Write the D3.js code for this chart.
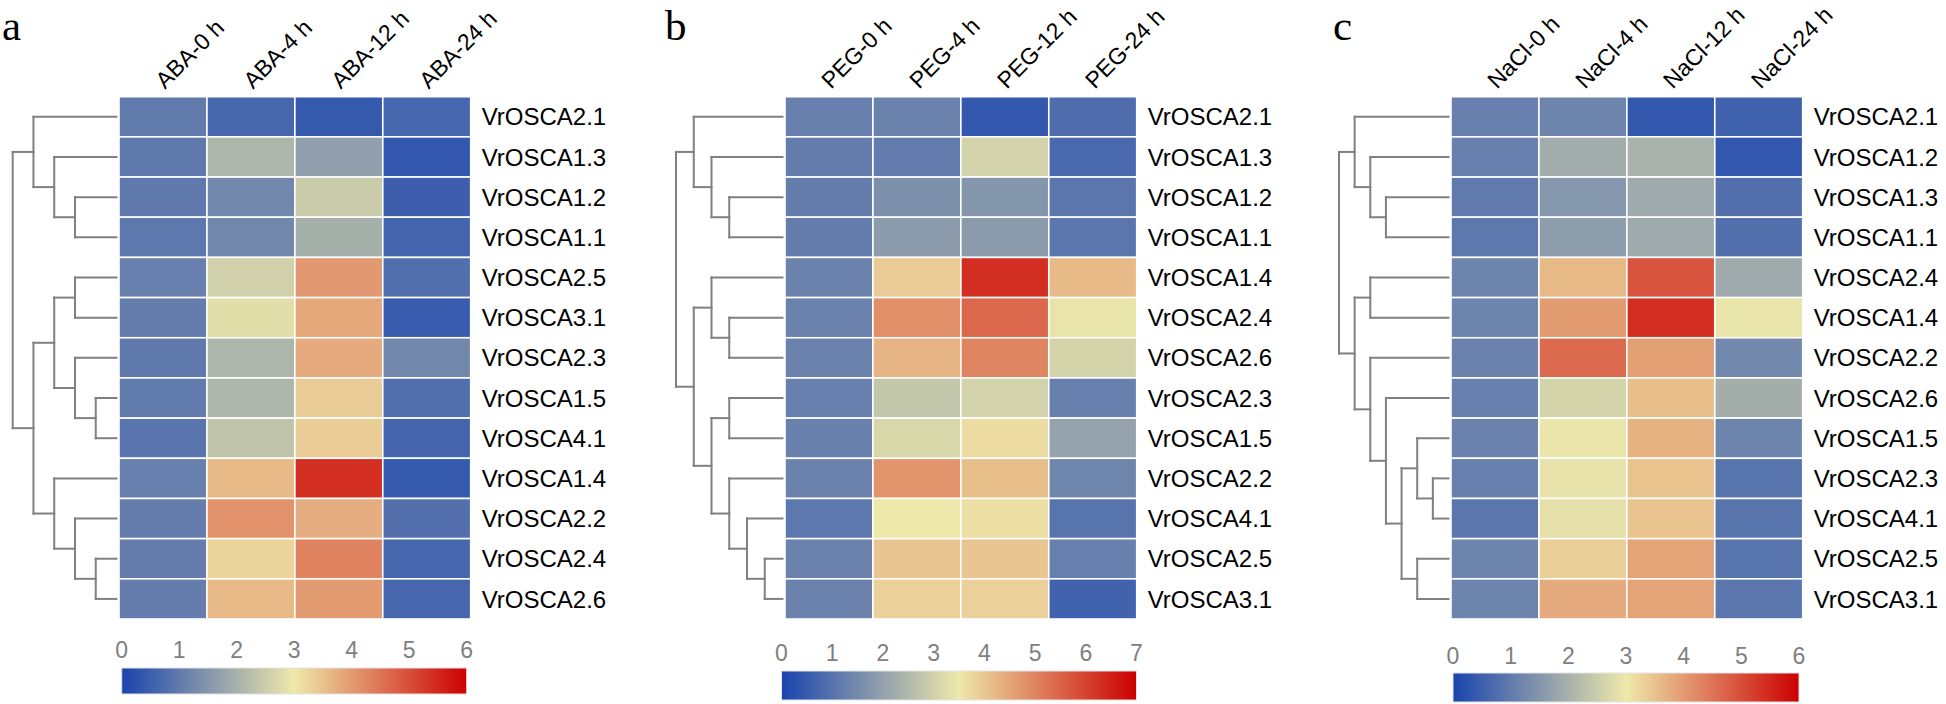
<!DOCTYPE html>
<html><head><meta charset="utf-8">
<script src="https://cdn.jsdelivr.net/npm/d3@7"></script>
<style>html,body{margin:0;padding:0;background:#fff}svg{display:block}</style>
</head><body>
<svg id="chart" width="1946" height="704"></svg>
<script>
// ---------------- data ----------------
const columnsABA = ["ABA-0 h", "ABA-4 h", "ABA-12 h", "ABA-24 h"];
const genesABA = ["VrOSCA2.1","VrOSCA1.3","VrOSCA1.2","VrOSCA1.1","VrOSCA2.5","VrOSCA3.1","VrOSCA2.3","VrOSCA1.5","VrOSCA4.1","VrOSCA1.4","VrOSCA2.2","VrOSCA2.4","VrOSCA2.6"];
const valuesABA = [
  [1.00, 0.64, 0.38, 0.62],
  [0.97, 2.08, 1.68, 0.35],
  [0.97, 1.23, 2.47, 0.48],
  [0.95, 1.23, 1.98, 0.60],
  [1.10, 2.58, 4.03, 0.79],
  [1.05, 2.82, 3.83, 0.42],
  [0.97, 2.08, 3.80, 1.23],
  [1.00, 2.10, 3.35, 0.78],
  [0.90, 2.34, 3.35, 0.60],
  [1.10, 3.60, 5.40, 0.40],
  [1.05, 4.10, 3.75, 0.80],
  [1.05, 3.25, 4.30, 0.62],
  [1.05, 3.60, 4.00, 0.62]
];
const treeABA = [[0, [1, [2, 3]]], [[[4, 5], [6, [7, 8]]], [9, [10, [11, 12]]]]];
const ticksABA = [0, 1, 2, 3, 4, 5, 6];

const columnsPEG = ["PEG-0 h", "PEG-4 h", "PEG-12 h", "PEG-24 h"];
const genesPEG = ["VrOSCA2.1","VrOSCA1.3","VrOSCA1.2","VrOSCA1.1","VrOSCA1.4","VrOSCA2.4","VrOSCA2.6","VrOSCA2.3","VrOSCA1.5","VrOSCA2.2","VrOSCA4.1","VrOSCA2.5","VrOSCA3.1"];
const valuesPEG = [
  [1.28, 1.32, 0.43, 0.88],
  [1.22, 1.20, 3.05, 0.77],
  [1.22, 1.62, 1.75, 1.07],
  [1.22, 1.88, 1.86, 1.07],
  [1.34, 3.94, 6.30, 4.20],
  [1.32, 4.84, 5.43, 3.41],
  [1.32, 4.28, 5.00, 3.07],
  [1.28, 2.77, 3.05, 1.28],
  [1.30, 3.14, 3.68, 2.00],
  [1.34, 4.75, 4.13, 1.40],
  [1.10, 3.50, 3.65, 1.02],
  [1.34, 4.01, 4.01, 1.28],
  [1.34, 3.86, 3.86, 0.64]
];
const treePEG = [[0, [1, [2, 3]]], [[4, [5, 6]], [[7, 8], [9, [10, [11, 12]]]]]];
const ticksPEG = [0, 1, 2, 3, 4, 5, 6, 7];

const columnsNaCl = ["NaCl-0 h", "NaCl-4 h", "NaCl-12 h", "NaCl-24 h"];
const genesNaCl = ["VrOSCA2.1","VrOSCA1.2","VrOSCA1.3","VrOSCA1.1","VrOSCA2.4","VrOSCA1.4","VrOSCA2.2","VrOSCA2.6","VrOSCA1.5","VrOSCA2.3","VrOSCA4.1","VrOSCA2.5","VrOSCA3.1"];
const valuesNaCl = [
  [1.10, 1.17, 0.37, 0.55],
  [1.10, 1.92, 2.03, 0.35],
  [0.99, 1.52, 1.87, 0.80],
  [0.95, 1.63, 1.87, 0.80],
  [1.17, 3.61, 4.91, 1.87],
  [1.17, 3.98, 5.40, 2.95],
  [1.13, 4.63, 3.93, 1.24],
  [1.10, 2.63, 3.54, 1.94],
  [1.13, 2.94, 3.70, 1.17],
  [1.10, 2.90, 3.47, 0.88],
  [0.91, 2.88, 3.47, 0.88],
  [1.17, 3.31, 3.88, 0.88],
  [1.17, 3.80, 3.88, 0.91]
];
const treeNaCl = [[0, [1, [2, 3]]], [[4, 5], [6, [7, [[8, [9, 10]], [11, 12]]]]]];
const ticksNaCl = [0, 1, 2, 3, 4, 5, 6];

const panelLetters = ["a", "b", "c"];
const paletteColors = ["#1a44ae", "#eee8aa", "#cc0000"];

// ---------------- layout ----------------
const panels = [
  {letter: panelLetters[0], cols: columnsABA, genes: genesABA, values: valuesABA, tree: treeABA, ticks: ticksABA,
   hmLeft: 119, letterX: 2, rootX: 12.7, barX0: 121.7, barX1: 466.7, barY: 668, barH: 26, tickY: 658},
  {letter: panelLetters[1], cols: columnsPEG, genes: genesPEG, values: valuesPEG, tree: treePEG, ticks: ticksPEG,
   hmLeft: 785, letterX: 665, rootX: 676, barX0: 781.5, barX1: 1136.5, barY: 671, barH: 29, tickY: 661},
  {letter: panelLetters[2], cols: columnsNaCl, genes: genesNaCl, values: valuesNaCl, tree: treeNaCl, ticks: ticksNaCl,
   hmLeft: 1451, letterX: 1333, rootX: 1339, barX0: 1453, barX1: 1799, barY: 673, barH: 29, tickY: 664}
];
const hmWidth = 351.7, hmTop = 96.7, hmBottom = 619;
const svg = d3.select("#chart");
const sans = "Arial, 'Liberation Sans', sans-serif";
const defs = svg.append("defs");

panels.forEach((p, pi) => {
  const vmax = d3.max(p.ticks);
  const color = d3.scaleLinear().domain([0, vmax / 2, vmax]).range(paletteColors).interpolate(d3.interpolateRgb).clamp(true);
  const x = d3.scaleBand().domain(p.cols).range([p.hmLeft, p.hmLeft + hmWidth]);
  const y = d3.scaleBand().domain(d3.range(p.genes.length)).range([hmTop, hmBottom]);
  const g = svg.append("g");

  // panel letter
  g.append("text").attr("x", p.letterX).attr("y", 40)
    .attr("font-family", "'Times New Roman', 'Liberation Serif', serif").attr("font-size", 43)
    .text(p.letter);

  // cells
  const cells = [];
  p.values.forEach((row, ri) => row.forEach((v, ci) => cells.push({ri, ci, v})));
  g.selectAll("rect.cell").data(cells).join("rect").attr("class", "cell")
    .attr("x", d => x(p.cols[d.ci])).attr("y", d => y(d.ri))
    .attr("width", x.bandwidth()).attr("height", y.bandwidth())
    .attr("fill", d => color(d.v)).attr("stroke", "#ffffff").attr("stroke-width", 1.6);

  // row labels
  g.selectAll("text.row").data(p.genes).join("text").attr("class", "row")
    .attr("x", p.hmLeft + hmWidth + 11).attr("y", (d, i) => y(i) + y.bandwidth() / 2)
    .attr("dy", "0.36em").attr("font-family", sans).attr("font-size", 24).attr("fill", "#000")
    .text(d => d);

  // column labels
  g.selectAll("text.col").data(p.cols).join("text").attr("class", "col")
    .attr("transform", d => `translate(${x(d) + x.bandwidth() / 2 + 2},${hmTop - 7}) rotate(-45)`)
    .attr("font-family", sans).attr("font-size", 23).attr("fill", "#000")
    .text(d => d);

  // dendrogram
  const root = d3.hierarchy(p.tree, d => Array.isArray(d) ? d : null);
  const maxDepth = d3.max(root.leaves(), l => l.depth);
  const leafX = p.hmLeft - 2.5;
  const step = (leafX - p.rootX) / maxDepth;
  root.eachAfter(n => {
    if (n.children) {
      n.px = p.rootX + n.depth * step;
      n.py = d3.mean(n.children, c => c.py);
    } else {
      n.px = leafX;
      n.py = y(n.data) + y.bandwidth() / 2;
    }
  });
  const segs = [];
  root.each(n => {
    if (n.children) {
      segs.push([n.px, d3.min(n.children, c => c.py), n.px, d3.max(n.children, c => c.py)]);
      n.children.forEach(c => segs.push([n.px, c.py, c.px, c.py]));
    }
  });
  g.selectAll("line.dendro").data(segs).join("line").attr("class", "dendro")
    .attr("x1", d => d[0]).attr("y1", d => d[1]).attr("x2", d => d[2]).attr("y2", d => d[3])
    .attr("stroke", "#808080").attr("stroke-width", 2).attr("stroke-linecap", "square");

  // colour bar
  const gid = "grad" + pi;
  const grad = defs.append("linearGradient").attr("id", gid).attr("x1", "0%").attr("x2", "100%").attr("y1", "0%").attr("y2", "0%");
  d3.range(0, 1.0001, 0.05).forEach(t => grad.append("stop").attr("offset", (t * 100) + "%").attr("stop-color", color(t * vmax)));
  const bx = d3.scaleLinear().domain([0, vmax]).range([p.barX0, p.barX1]);
  g.append("rect").attr("x", p.barX0).attr("y", p.barY).attr("width", p.barX1 - p.barX0).attr("height", p.barH)
    .attr("fill", `url(#${gid})`).attr("stroke", "#e3e3e3").attr("stroke-width", 1);
  g.selectAll("text.tick").data(p.ticks).join("text").attr("class", "tick")
    .attr("x", d => bx(d)).attr("y", p.tickY).attr("text-anchor", "middle")
    .attr("font-family", sans).attr("font-size", 23).attr("fill", "#808080")
    .text(d => d);
});
</script>
</body></html>
